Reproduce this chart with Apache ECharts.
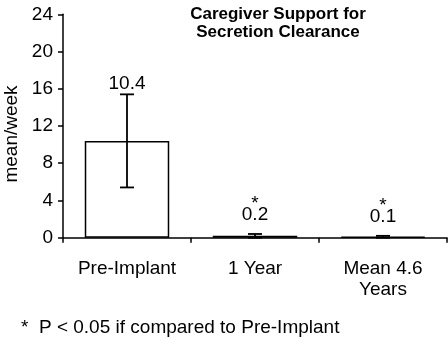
<!DOCTYPE html>
<html>
<head>
<meta charset="utf-8">
<script src="https://cdn.jsdelivr.net/npm/echarts@6/dist/echarts.min.js"></script>
<style>
html,body{margin:0;padding:0;background:#fff;}
#chart{width:448px;height:338px;}
</style>
</head>
<body>
<div id="chart"></div>
<script>
// ---- data ----
const categories = ['Pre-Implant', '1 Year', 'Mean 4.6\nYears'];
const meanValues = [10.4, 0.2, 0.1];
const errorValues = [5.0, 0.2, 0.1];
const significant = [false, true, true];
const valueLabels = ['10.4', '0.2', '0.1'];
const yMin = 0, yMax = 24, yInterval = 4;
const titleText = 'Caregiver Support for\nSecretion Clearance';
const yAxisName = 'mean/week';
const footnote = '*  P < 0.05 if compared to Pre-Implant';

// ---- style ----
const FONT = 'Liberation Sans, Arial, sans-serif';
const FS = 19;
const labelGap = [11, 19, 19];

const chart = echarts.init(document.getElementById('chart'), null, {renderer: 'canvas'});

const errData = categories.map((c, i) => [i, meanValues[i] - errorValues[i], meanValues[i] + errorValues[i], meanValues[i]]);

chart.setOption({
  animation: false,
  backgroundColor: '#fff',
  title: {
    text: titleText,
    left: 273,
    top: 0,
    textAlign: 'center',
    textStyle: {fontFamily: FONT, fontSize: 17, fontWeight: 'bold', color: '#000', lineHeight: 18}
  },
  grid: {left: 63, right: 1, top: 14.3, bottom: 100.3, containLabel: false, outerBoundsMode: 'none'},
  xAxis: {
    type: 'category',
    data: categories,
    boundaryGap: true,
    axisLine: {lineStyle: {color: '#000', width: 1.5}},
    axisTick: {show: true, length: 5, inside: false, lineStyle: {color: '#000', width: 1.5}},
    axisLabel: {color: '#000', fontFamily: FONT, fontSize: FS, lineHeight: 21, margin: 21, interval: 0}
  },
  yAxis: {
    type: 'value',
    min: yMin, max: yMax, interval: yInterval,
    name: yAxisName,
    nameLocation: 'middle',
    nameGap: 41,
    nameRotate: 90,
    nameTextStyle: {color: '#000', fontFamily: FONT, fontSize: FS, padding: [0, 16, 0, 0]},
    axisLine: {show: true, lineStyle: {color: '#000', width: 1.5}},
    axisTick: {show: true, length: 5, inside: false, lineStyle: {color: '#000', width: 1.5}},
    axisLabel: {color: '#000', fontFamily: FONT, fontSize: FS, margin: 10},
    splitLine: {show: false}
  },
  series: [
    {
      type: 'bar',
      data: meanValues,
      barWidth: '66%',
      itemStyle: {color: '#fff', borderColor: '#000', borderWidth: 1.5},
      z: 2
    },
    {
      type: 'custom',
      data: errData,
      z: 5,
      renderItem: function (params, api) {
        const i = api.value(0);
        const lo = api.coord([i, api.value(1)]);
        const hi = api.coord([i, api.value(2)]);
        const half = 7;
        const style = {stroke: '#000', lineWidth: 1.8};
        const children = [
          {type: 'line', shape: {x1: hi[0], y1: hi[1], x2: lo[0], y2: lo[1]}, style: style},
          {type: 'line', shape: {x1: hi[0] - half, y1: hi[1], x2: hi[0] + half, y2: hi[1]}, style: style},
          {type: 'line', shape: {x1: lo[0] - half, y1: lo[1], x2: lo[0] + half, y2: lo[1]}, style: style}
        ];
        const ly = hi[1] - labelGap[params.dataIndex];
        children.push({
          type: 'text',
          x: hi[0], y: ly,
          style: {text: valueLabels[params.dataIndex], textAlign: 'center', textVerticalAlign: 'middle',
                  font: FS + 'px ' + FONT, fill: '#000'}
        });
        if (significant[params.dataIndex]) {
          children.push({
            type: 'text',
            x: hi[0], y: ly - 11,
            style: {text: '*', textAlign: 'center', textVerticalAlign: 'middle',
                    font: FS + 'px ' + FONT, fill: '#000'}
          });
        }
        return {type: 'group', children: children};
      }
    }
  ],
  graphic: [
    {
      type: 'text',
      left: 21,
      top: 318,
      style: {text: footnote, font: FS + 'px ' + FONT, fill: '#000'}
    }
  ]
});
</script>
</body>
</html>
